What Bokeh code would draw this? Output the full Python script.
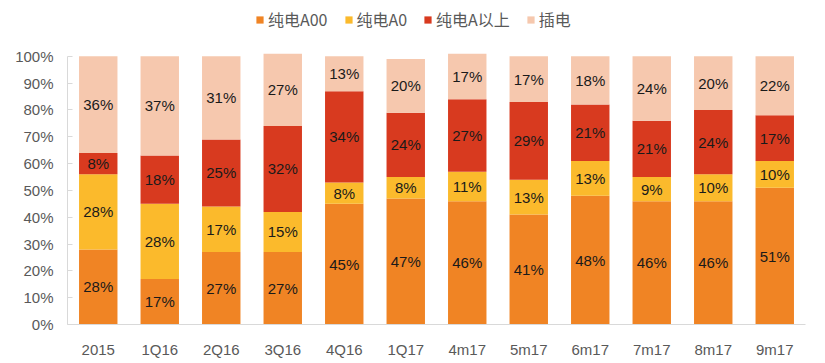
from bokeh.plotting import figure
from bokeh.models import ColumnDataSource, Legend, LegendItem, PrintfTickFormatter, FixedTicker, Range1d
from bokeh.core.properties import value
from bokeh.embed import file_html
from bokeh.resources import INLINE

categories = ["2015", "1Q16", "2Q16", "3Q16", "4Q16", "1Q17", "4m17", "5m17", "6m17", "7m17", "8m17", "9m17"]
a00 = [28, 17, 27, 27, 45, 47, 46, 41, 48, 46, 46, 51]
a0 = [28, 28, 17, 15, 8, 8, 11, 13, 13, 9, 10, 10]
a_up = [8, 18, 25, 32, 34, 24, 27, 29, 21, 21, 24, 17]
phev = [36, 37, 31, 27, 13, 20, 17, 17, 18, 24, 20, 22]
series_names = ["纯电A00", "纯电A0", "纯电A以上", "插电"]
colors = ["#F08424", "#FBBA2C", "#D83A1F", "#F6C8AE"]
y_ticks = [0, 10, 20, 30, 40, 50, 60, 70, 80, 90, 100]

keys = ["a00", "a0", "a_up", "phev"]
data = {"cat": categories, "a00": a00, "a0": a0, "a_up": a_up, "phev": phev}
source = ColumnDataSource(data)

# frame extends above 100% to host the legend; 100% sits at 269px of 317px
y_top = 100 * 317 / 269
p = figure(x_range=categories, y_range=Range1d(0, y_top), width=820, height=360,
           output_backend="svg", toolbar_location=None,
           min_border_left=67, min_border_right=15, min_border_bottom=35, min_border_top=8)

renderers = p.vbar_stack(keys, x="cat", width=0.625, color=colors, source=source, line_color=None)

# labels
lab_x, lab_y, lab_t = [], [], []
for i, c in enumerate(categories):
    base = 0
    for arr in (a00, a0, a_up, phev):
        v = arr[i]
        lab_x.append(c)
        lab_y.append(base + v / 2)
        lab_t.append(f"{v}%")
        base += v
lsrc = ColumnDataSource(dict(x=lab_x, y=lab_y, t=lab_t))
p.text(x="x", y="y", text="t", source=lsrc, text_align="center", text_baseline="middle",
       text_font=value("Liberation Sans"), text_font_size="15px", text_color="#1a1a1a")

legend = Legend(items=[LegendItem(label=n, renderers=[r]) for n, r in zip(series_names, renderers)],
                orientation="horizontal", location=(188, 293),
                label_text_font="Noto Sans CJK SC", label_text_font_size="16px",
                label_text_color="#595959", glyph_width=9, glyph_height=9,
                label_standoff=4, spacing=16, padding=2, margin=0,
                border_line_color=None, background_fill_alpha=0, label_height=20)
p.add_layout(legend, "center")

p.xgrid.grid_line_color = None
p.ygrid.grid_line_color = None
p.outline_line_color = None
p.x_range.range_padding = 0

p.yaxis.ticker = FixedTicker(ticks=y_ticks)
p.yaxis.bounds = (y_ticks[0], y_ticks[-1])
p.yaxis.formatter = PrintfTickFormatter(format="%d%%")
for ax in (p.xaxis[0], p.yaxis[0]):
    ax.axis_line_color = "#D9D9D9"
    ax.major_tick_line_color = "#D9D9D9"
    ax.minor_tick_line_color = None
    ax.major_label_text_font = "Liberation Sans"
    ax.major_label_text_font_size = "15px"
    ax.major_label_text_color = "#595959"
p.yaxis.major_tick_in = 5
p.yaxis.major_tick_out = 0
p.yaxis.major_label_standoff = 14
p.xaxis.major_tick_line_color = None
p.xaxis.major_label_standoff = 10

open("out.html", "w").write(file_html(p, INLINE))
